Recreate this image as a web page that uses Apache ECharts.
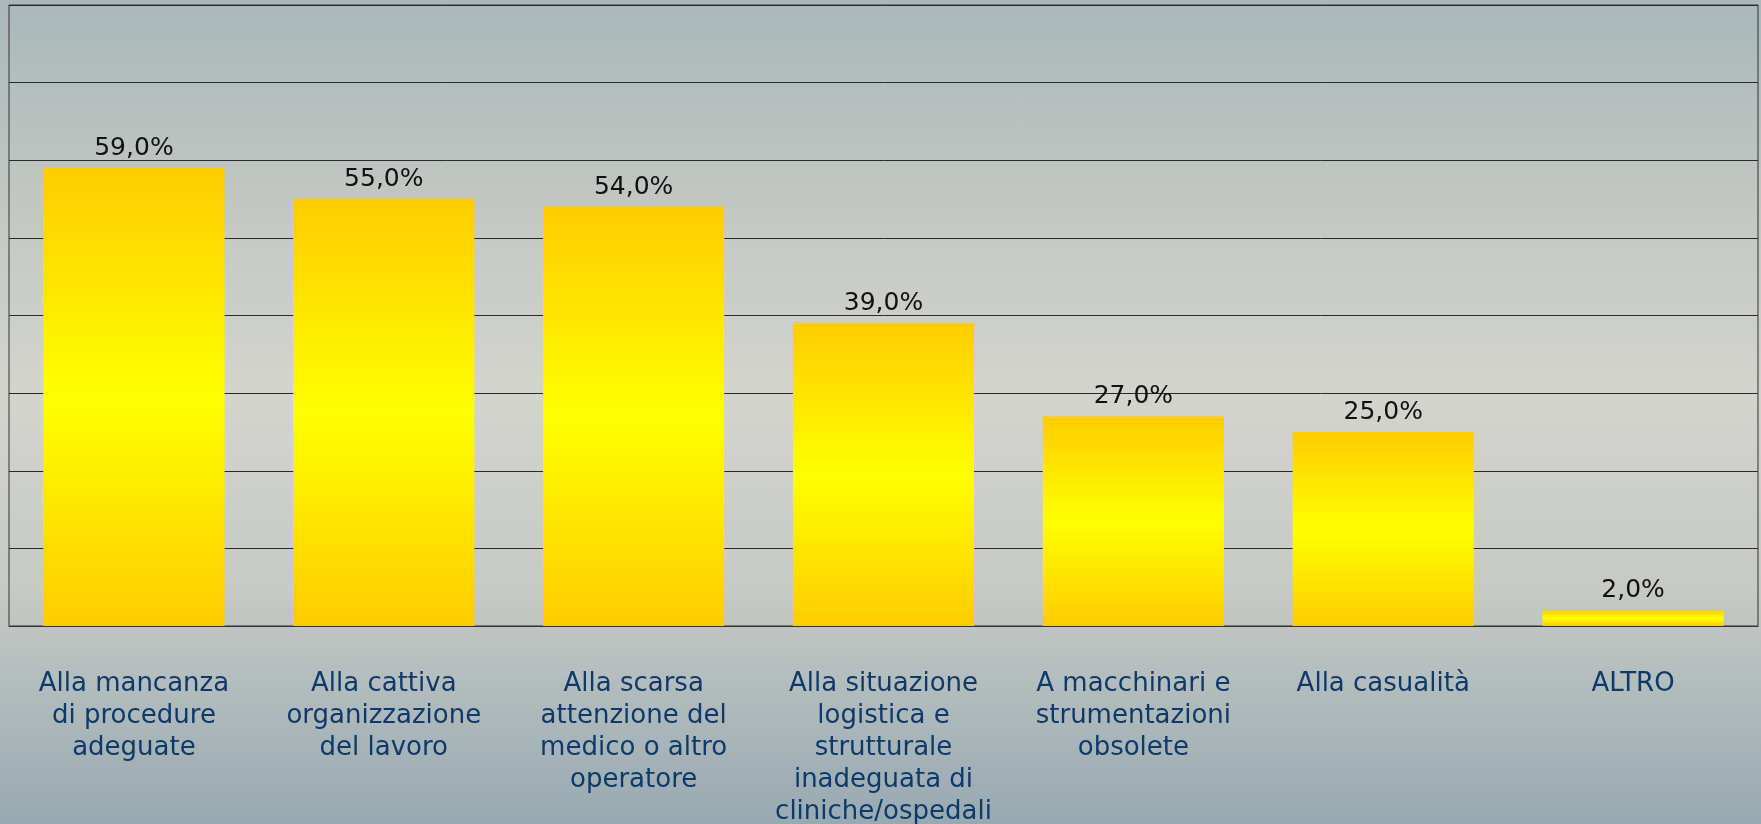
<!DOCTYPE html>
<html>
<head>
<meta charset="utf-8">
<script src="https://cdn.jsdelivr.net/npm/echarts@6/dist/echarts.min.js"></script>
<style>
html,body{margin:0;padding:0;width:1761px;height:824px;overflow:hidden;
background:linear-gradient(to bottom,#a9b8ba 0%,#c3c7c2 25%,#d3d4ce 48%,#c6c9c4 72%,#97a9b1 100%);}
#c{width:1761px;height:824px;}
</style>
</head>
<body>
<div id="c"></div>
<script>
var categories = [
  "Alla mancanza\ndi procedure\nadeguate",
  "Alla cattiva\norganizzazione\ndel lavoro",
  "Alla scarsa\nattenzione del\nmedico o altro\noperatore",
  "Alla situazione\nlogistica e\nstrutturale\ninadeguata di\ncliniche/ospedali",
  "A macchinari e\nstrumentazioni\nobsolete",
  "Alla casualità",
  "ALTRO"
];
var values = [59, 55, 54, 39, 27, 25, 2];
var yTicks = {min: 0, max: 80, interval: 10};

var FONT = "'DejaVu Sans', Verdana, sans-serif";
var chart = echarts.init(document.getElementById('c'), null, {renderer: 'canvas'});
chart.setOption({
  backgroundColor: 'transparent',
  animation: false,
  grid: {left: 9, right: 3, top: 5, bottom: 198, show: true, borderColor: '#333', borderWidth: 1,
         backgroundColor: 'transparent', containLabel: false, outerBoundsMode: 'none'},
  xAxis: {
    type: 'category',
    data: categories,
    axisLine: {show: true, lineStyle: {color: '#333', width: 1}},
    axisTick: {show: false},
    axisLabel: {
      interval: 0, margin: 42, fontSize: 26, lineHeight: 32,
      color: '#0d3a6b', fontFamily: FONT, align: 'center'
    }
  },
  yAxis: {
    type: 'value',
    min: yTicks.min, max: yTicks.max, interval: yTicks.interval,
    axisLabel: {show: false},
    axisLine: {show: false},
    axisTick: {show: false},
    splitLine: {show: true, lineStyle: {color: '#2a2a2a', width: 1}}
  },
  series: [{
    type: 'bar',
    data: values,
    barWidth: '72.5%',
    itemStyle: {
      color: new echarts.graphic.LinearGradient(0, 0, 0, 1, [
        {offset: 0, color: '#ffcc00'},
        {offset: 0.5, color: '#ffff00'},
        {offset: 1, color: '#ffcc00'}
      ])
    },
    label: {
      show: true, position: 'top', distance: 7,
      fontSize: 25, fontFamily: FONT, color: '#111',
      formatter: function (p) { return p.value.toFixed(1).replace('.', ',') + '%'; }
    }
  }]
});
</script>
</body>
</html>
